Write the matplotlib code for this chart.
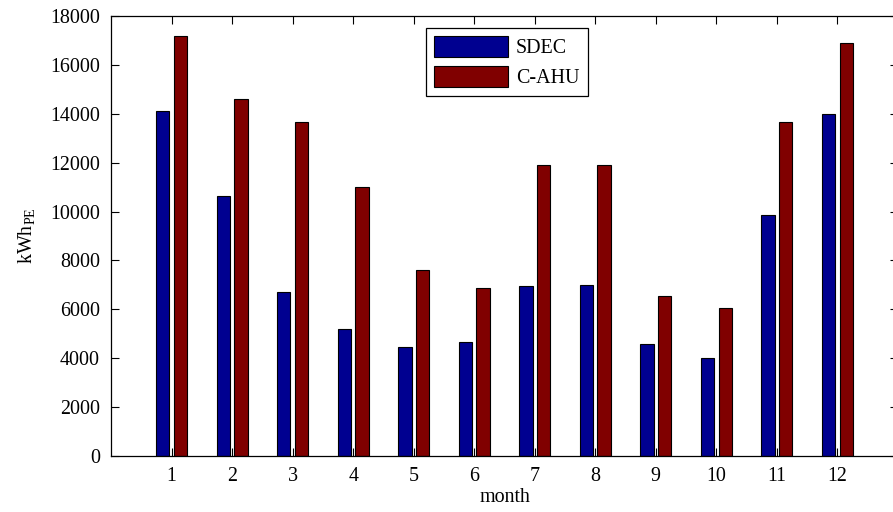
import numpy as np
import matplotlib
matplotlib.use("Agg")
import matplotlib.pyplot as plt

plt.rcParams['font.family'] = 'Liberation Serif'
plt.rcParams['mathtext.fontset'] = 'custom'
plt.rcParams['mathtext.rm'] = 'Liberation Serif'

months = np.arange(1, 13)
month_labels = [str(m) for m in months]
sdec = [14110, 10620, 6720, 5180, 4460, 4660, 6940, 7010, 4600, 4010, 9860, 13980]
cahu = [17200, 14620, 13670, 10990, 7600, 6870, 11920, 11920, 6560, 6055, 13670, 16910]

W, H = 893, 512
fig = plt.figure(figsize=(W / 100, H / 100), dpi=100)
ax = fig.add_axes([111 / W, (H - 456) / H, (898 - 111) / W, (456 - 16) / H])

fs = 14.4
bw = 0.22
off = 0.145
ax.bar(months - off, sdec, bw, color='#000090', edgecolor='black', linewidth=0.8, label='SDEC')
ax.bar(months + off, cahu, bw, color='#800000', edgecolor='black', linewidth=0.8, label='C-AHU')

ax.set_xlim(0, 13)
ax.set_ylim(0, 18000)
ax.set_xticks(months)
ax.set_xticklabels(month_labels)
ax.set_yticks(np.arange(0, 18001, 2000))
ax.set_axisbelow(True)
ax.tick_params(direction='in', length=6, width=0.8, labelsize=fs,
               top=True, right=True, pad=8)
for s in ax.spines.values():
    s.set_linewidth(0.9)

ax.set_xlabel('month', fontsize=fs, labelpad=1)
ax.set_ylabel('kWh$_{\\mathrm{PE}}$', fontsize=fs, labelpad=9)

leg = ax.legend(loc='upper center', bbox_to_anchor=(0.503, 0.972), fontsize=fs,
                fancybox=False, edgecolor='black', framealpha=1,
                handlelength=3.7, handleheight=1.2, handletextpad=0.4,
                borderpad=0.4, labelspacing=0.4, borderaxespad=0)
leg.get_frame().set_linewidth(0.9)

fig.savefig('out.png', dpi=100)
